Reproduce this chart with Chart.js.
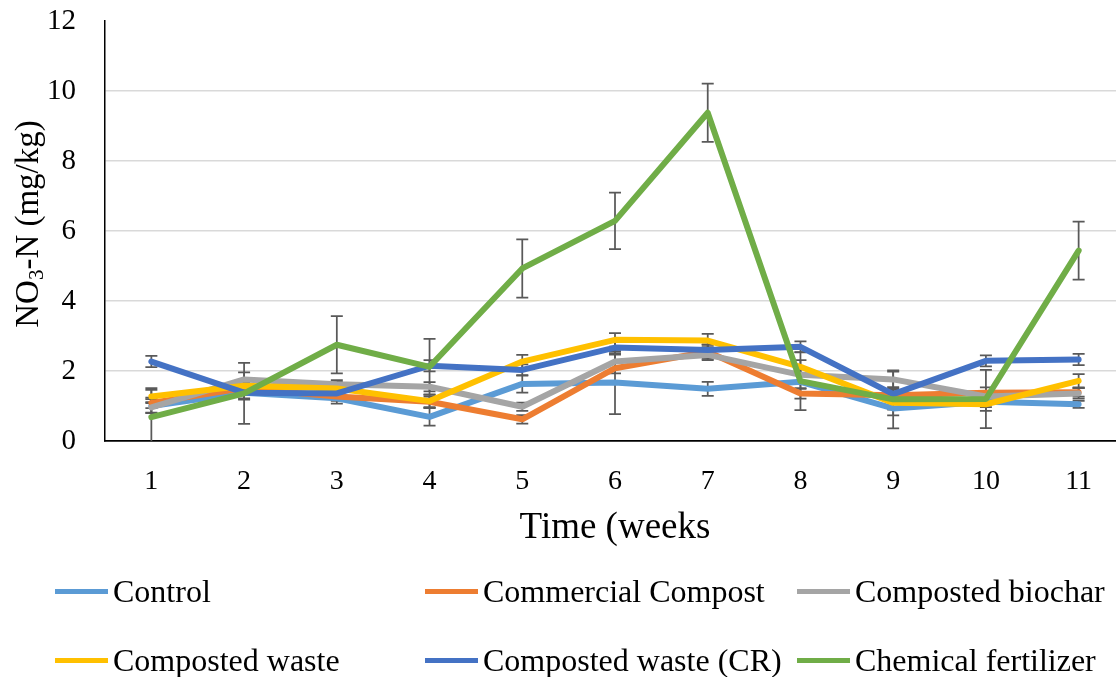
<!DOCTYPE html>
<html><head><meta charset="utf-8">
<script src="https://cdn.jsdelivr.net/npm/chart.js@4.4.0/dist/chart.umd.min.js"></script>
<style>
html,body{margin:0;padding:0;background:#fff;overflow:hidden;width:1116px;height:677px;}
#wrap{position:absolute;left:0;top:0;width:1125px;height:560px;}
#legend{position:absolute;left:0;top:0;width:1116px;height:677px;pointer-events:none;font-family:'Liberation Serif','Times New Roman',serif;font-size:32px;color:#000;}
.item{position:absolute;display:flex;align-items:center;height:40px;white-space:nowrap;}
.sw{display:inline-block;width:53px;height:5px;margin-right:5px;}
</style></head>
<body>
<div id="wrap"><canvas id="c"></canvas></div>
<div id="legend"></div>
<script>
// ---- data ----
const weeks = ['1','2','3','4','5','6','7','8','9','10','11'];
const seriesNames = ['Control','Commercial Compost','Composted biochar','Composted waste','Composted waste (CR)','Chemical fertilizer'];
const seriesColors = ['#5B9BD5','#ED7D31','#A5A5A5','#FFC000','#4472C4','#70AD47'];
const control        = [1.00, 1.38, 1.22, 0.69, 1.63, 1.67, 1.49, 1.69, 0.93, 1.12, 1.05];
const commercial     = [1.09, 1.51, 1.27, 1.12, 0.62, 2.08, 2.55, 1.36, 1.31, 1.38, 1.39];
const biochar        = [0.96, 1.76, 1.62, 1.55, 0.98, 2.27, 2.46, 1.89, 1.76, 1.27, 1.36];
const compWaste      = [1.27, 1.58, 1.50, 1.14, 2.27, 2.89, 2.87, 2.12, 1.09, 1.05, 1.72];
const compWasteCR    = [2.27, 1.38, 1.36, 2.15, 2.03, 2.67, 2.60, 2.69, 1.34, 2.29, 2.33];
const chemFert       = [0.68, 1.36, 2.75, 2.12, 4.93, 6.29, 9.38, 1.71, 1.19, 1.20, 5.44];
// error bar half-lengths
const errControl     = [0.20, 0.20, 0.15, 0.25, 0.25, 0.90, 0.20, 0.20, 0.20, 0.15, 0.10];
const errCommercial  = [0.15, 0.15, 0.12, 0.15, 0.12, 0.15, 0.20, 0.15, 0.15, 0.15, 0.12];
const errBiochar     = [0.15, 0.20, 0.12, 0.13, 0.12, 0.20, 0.15, 0.20, 0.22, 0.15, 0.15];
const errCompWaste   = [0.19, 0.19, 0.19, 0.19, 0.19, 0.19, 0.19, 0.19, 0.19, 0.19, 0.19];
const errCompWasteCR = [0.16, 0.16, 0.16, 0.16, 0.16, 0.16, 0.16, 0.16, 0.16, 0.16, 0.16];
const errChemFert    = [0.83, 0.87, 0.82, 0.80, 0.83, 0.81, 0.83, 0.83, 0.83, 0.83, 0.83];
const yTicks = [0, 2, 4, 6, 8, 10, 12];
const xTitle = 'Time (weeks';
const yTitleParts = ['NO', '3', '-N (mg/kg)'];

const values = [control, commercial, biochar, compWaste, compWasteCR, chemFert];
const errors = [errControl, errCommercial, errBiochar, errCompWaste, errCompWasteCR, errChemFert];
const FONT = "'Liberation Serif','Times New Roman',serif";

const datasets = seriesNames.map((n, i) => ({
  label: n,
  data: values[i],
  errors: errors[i],
  borderColor: seriesColors[i],
  backgroundColor: seriesColors[i],
  borderWidth: 6,
  pointRadius: 0,
  pointHoverRadius: 0,
  tension: 0,
  borderJoinStyle: 'round',
  borderCapStyle: 'round',
  fill: false,
  order: seriesNames.length - i
}));

const errorBars = {
  id: 'errorBars',
  beforeDatasetsDraw(chart) {
    const {ctx, chartArea: a, scales: {x, y}} = chart;
    ctx.save();
    ctx.beginPath();
    ctx.rect(a.left, a.top, a.right - a.left, a.bottom - a.top);
    ctx.clip();
    ctx.strokeStyle = '#595959';
    ctx.lineWidth = 1.75;
    chart.data.datasets.forEach((ds) => {
      ds.data.forEach((v, j) => {
        const e = ds.errors[j];
        const px = x.getPixelForValue(j);
        const y1 = y.getPixelForValue(v + e);
        const y2 = y.getPixelForValue(v - e);
        ctx.beginPath();
        ctx.moveTo(px, y1); ctx.lineTo(px, y2);
        ctx.moveTo(px - 6, y1); ctx.lineTo(px + 6, y1);
        ctx.moveTo(px - 6, y2); ctx.lineTo(px + 6, y2);
        ctx.stroke();
      });
    });
    ctx.restore();
  }
};

const yTitle = {
  id: 'yTitle',
  afterDraw(chart) {
    const {ctx, chartArea: a} = chart;
    const main = '33px ' + FONT, sub = '21px ' + FONT;
    ctx.save();
    ctx.translate(29, (a.top + a.bottom) / 2 - 7);
    ctx.rotate(-Math.PI / 2);
    ctx.fillStyle = '#000';
    ctx.textBaseline = 'middle';
    ctx.textAlign = 'left';
    ctx.font = main; const w1 = ctx.measureText(yTitleParts[0]).width;
    ctx.font = sub;  const w2 = ctx.measureText(yTitleParts[1]).width;
    ctx.font = main; const w3 = ctx.measureText(yTitleParts[2]).width;
    let sx = -(w1 + w2 + w3) / 2;
    ctx.font = main; ctx.fillText(yTitleParts[0], sx, 0);
    ctx.font = sub;  ctx.fillText(yTitleParts[1], sx + w1, 8);
    ctx.font = main; ctx.fillText(yTitleParts[2], sx + w1 + w2, 0);
    ctx.restore();
  }
};

new Chart(document.getElementById('c'), {
  type: 'line',
  data: { labels: weeks, datasets },
  options: {
    responsive: true,
    maintainAspectRatio: false,
    animation: false,
    events: [],
    layout: { padding: { top: 21, left: 0, right: 0, bottom: 0 } },
    plugins: { legend: { display: false }, tooltip: { enabled: false }, title: { display: false } },
    scales: {
      x: {
        offset: true,
        grid: { display: false, drawTicks: false },
        border: { display: true, color: '#000', width: 1.75 },
        ticks: { color: '#000', font: { family: FONT, size: 28 }, padding: 24, maxRotation: 0 },
        title: { display: true, text: xTitle, color: '#000', font: { family: FONT, size: 37 }, padding: { top: 0, bottom: 10 } },
        afterFit(s) { s.height = 119; s.paddingLeft = 0; s.paddingRight = 0; }
      },
      y: {
        min: 0, max: 12,
        afterBuildTicks(s) { s.ticks = yTicks.map(v => ({ value: v })); },
        grid: {
          drawTicks: false,
          lineWidth: 1.5,
          color: (c) => (c.tick && (c.tick.value === 0 || c.tick.value === 12)) ? 'rgba(0,0,0,0)' : '#D9D9D9'
        },
        border: { display: true, color: '#000', width: 1.5 },
        ticks: { color: '#000', font: { family: FONT, size: 29 }, padding: 29 },
        afterFit(s) { s.width = 105; s.paddingTop = 0; s.paddingBottom = 0; }
      }
    }
  },
  plugins: [errorBars, yTitle]
});

// HTML legend built from series arrays
const legendPos = [[55, 591], [425, 591], [797, 591], [55, 660], [425, 660], [797, 660]];
const lg = document.getElementById('legend');
seriesNames.forEach((n, i) => {
  const d = document.createElement('div');
  d.className = 'item';
  d.style.left = legendPos[i][0] + 'px';
  d.style.top = (legendPos[i][1] - 20) + 'px';
  const sw = document.createElement('span');
  sw.className = 'sw';
  sw.style.background = seriesColors[i];
  const t = document.createElement('span');
  t.textContent = n;
  d.appendChild(sw); d.appendChild(t);
  lg.appendChild(d);
});
</script>
</body></html>
